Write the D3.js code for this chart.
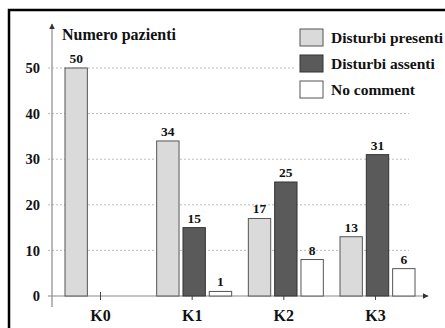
<!DOCTYPE html>
<html>
<head>
<meta charset="utf-8">
<script src="https://cdn.jsdelivr.net/npm/d3@7"></script>
<style>
  html, body { margin: 0; padding: 0; background: #fff; }
  svg { display: block; }
  text { font-family: 'Liberation Serif', 'DejaVu Serif', serif; fill: #111; }
</style>
</head>
<body>
<svg id="chart"></svg>
<script>
// data
const groups = ['K0', 'K1', 'K2', 'K3'];
const series = ['Disturbi presenti', 'Disturbi assenti', 'No comment'];
const presenti = [50, 34, 17, 13];
const assenti = [0, 15, 25, 31];
const noComment = [0, 1, 8, 6];
const yTicks = [0, 10, 20, 30, 40, 50];
const yTitle = 'Numero pazienti';

const render = () => {
  const width = 445;
  const height = 328;
  const svg = d3.select('#chart')
    .attr('width', width)
    .attr('height', height);

  const fills = ['#dadada', '#5a5a5a', '#ffffff'];
  const strokes = ['#555', '#333', '#555'];
  const axisColor = '#8a8a8a';

  const x0 = d3.scalePoint()
    .domain(groups)
    .range([100, 375]);
  const x1 = d3.scaleBand()
    .domain(series)
    .range([-35, 40])
    .paddingInner(0.15);
  const y = d3.scaleLinear()
    .domain([0, 50])
    .range([296, 68]);

  const rows = groups.map((g, i) => ({
    group: g,
    values: [presenti[i], assenti[i], noComment[i]],
  }));

  // frame
  svg.append('rect')
    .attr('x', 9)
    .attr('y', 10)
    .attr('width', 470)
    .attr('height', 350)
    .attr('fill', 'none')
    .attr('stroke', '#000')
    .attr('stroke-width', 2.5);

  // grid
  svg.append('g')
    .selectAll('line')
    .data(yTicks.filter(d => d > 0))
    .enter().append('line')
      .attr('x1', 48)
      .attr('x2', 409)
      .attr('y1', d => y(d))
      .attr('y2', d => y(d))
      .attr('stroke', '#aaa')
      .attr('stroke-width', 0.8)
      .attr('stroke-dasharray', '2,2');

  // axes lines with arrows
  svg.append('defs').append('marker')
    .attr('id', 'arrow')
    .attr('viewBox', '0 0 10 10')
    .attr('refX', 9)
    .attr('refY', 5)
    .attr('markerWidth', 6)
    .attr('markerHeight', 6)
    .attr('markerUnits', 'userSpaceOnUse')
    .attr('orient', 'auto')
    .append('path')
      .attr('d', 'M0,0L10,5L0,10z')
      .attr('fill', '#333');

  svg.append('line')
    .attr('x1', 52).attr('x2', 52)
    .attr('y1', 307).attr('y2', 24)
    .attr('stroke', axisColor)
    .attr('stroke-width', 1.2)
    .attr('marker-end', 'url(#arrow)');
  svg.append('line')
    .attr('x1', 48).attr('x2', 428)
    .attr('y1', y(0)).attr('y2', y(0))
    .attr('stroke', axisColor)
    .attr('stroke-width', 1.2)
    .attr('marker-end', 'url(#arrow)');

  // y axis labels
  const yAxis = svg.append('g')
    .attr('transform', 'translate(52,0)')
    .call(d3.axisLeft(y).tickValues(yTicks).tickSize(0).tickPadding(12));
  yAxis.select('.domain').remove();
  yAxis.selectAll('text')
    .attr('font-size', 14.5)
    .attr('font-weight', 'bold')
    .attr('fill', '#111');

  // x axis
  const xAxis = svg.append('g')
    .attr('transform', `translate(0,${y(0)})`)
    .call(d3.axisBottom(x0).tickSize(4).tickPadding(10));
  xAxis.select('.domain').remove();
  xAxis.selectAll('.tick line')
    .attr('y1', -4)
    .attr('stroke', '#444');
  xAxis.selectAll('text')
    .attr('font-size', 16)
    .attr('font-weight', 'bold')
    .attr('fill', '#111');

  // bars
  const groupLayer = svg.selectAll('.grp')
      .data(rows)
    .enter().append('g')
      .attr('class', 'grp')
      .attr('transform', d => `translate(${x0(d.group)},0)`);

  const cells = groupLayer.selectAll('.bar')
      .data(d => d.values.map((v, j) => ({ key: series[j], value: v, j })).filter(c => c.value > 0))
    .enter();

  cells.append('rect')
    .attr('class', 'bar')
    .attr('x', d => x1(d.key))
    .attr('y', d => y(d.value))
    .attr('width', x1.bandwidth())
    .attr('height', d => y(0) - y(d.value))
    .attr('fill', d => fills[d.j])
    .attr('stroke', d => strokes[d.j])
    .attr('stroke-width', 1);

  cells.append('text')
    .attr('x', d => x1(d.key) + x1.bandwidth() / 2)
    .attr('y', d => y(d.value) - 5)
    .attr('text-anchor', 'middle')
    .attr('font-size', 13.5)
    .attr('font-weight', 'bold')
    .text(d => d.value);

  // y title
  svg.append('text')
    .attr('x', 62)
    .attr('y', 40)
    .attr('font-size', 16)
    .attr('font-weight', 'bold')
    .text(yTitle);

  // legend
  const legend = svg.append('g');
  legend.append('rect')
    .attr('x', 296)
    .attr('y', 24)
    .attr('width', 150)
    .attr('height', 82)
    .attr('fill', '#fff');

  const items = legend.selectAll('.item')
      .data(series)
    .enter().append('g')
      .attr('class', 'item')
      .attr('transform', (d, i) => `translate(300,${29 + i * 26})`);
  items.append('rect')
    .attr('width', 23)
    .attr('height', 17)
    .attr('fill', (d, i) => fills[i])
    .attr('stroke', (d, i) => strokes[i])
    .attr('stroke-width', 1);
  items.append('text')
    .attr('x', 31)
    .attr('y', 14)
    .attr('font-size', 15.5)
    .attr('font-weight', 'bold')
    .text(d => d);
};

render();
</script>
</body>
</html>
